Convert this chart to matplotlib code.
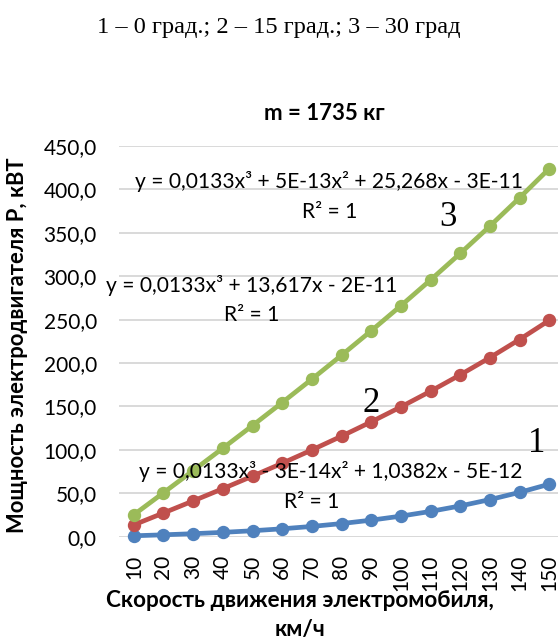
import matplotlib
matplotlib.use("Agg")
import matplotlib.pyplot as plt
from matplotlib.ticker import MultipleLocator, FuncFormatter

# Speed categories, km/h
speeds = ["10", "20", "30", "40", "50", "60", "70", "80", "90", "100",
          "110", "120", "130", "140", "150"]

# Motor power, kW, for road slopes 0, 15 and 30 degrees
power_0deg = [1.05, 2.18, 3.47, 5.00, 6.85, 9.10, 11.83, 15.12, 19.04, 23.68,
              29.12, 35.44, 42.72, 51.03, 60.46]
power_15deg = [13.63, 27.34, 41.21, 55.32, 69.75, 84.57, 99.88, 115.75, 132.25, 149.47,
               167.49, 186.39, 206.24, 227.13, 249.14]
power_30deg = [25.28, 50.64, 76.16, 101.92, 128.00, 154.48, 181.44, 208.95, 237.11, 265.98,
               295.65, 326.20, 357.70, 390.25, 423.91]

trend_0deg = "y = 0,0133x³ - 3E-14x² + 1,0382x - 5E-12"
trend_15deg = "y = 0,0133x³ + 13,617x - 2E-11"
trend_30deg = "y = 0,0133x³ + 5E-13x² + 25,268x - 3E-11"
r2_text = "R² = 1"

SANS = ["Lato", "Open Sans", "DejaVu Sans"]
SERIF = ["Liberation Serif", "DejaVu Serif"]
plt.rcParams["font.family"] = SANS

W, H = 558, 641
fig = plt.figure(figsize=(W / 100, H / 100), dpi=100)


def fx(px):
    return px / W


def fy(py):
    return 1 - py / H


ax = fig.add_axes([fx(119), fy(536.7), fx(564) - fx(119), fy(146) - fy(536.7)])

x = list(range(len(speeds)))
series = [
    (power_0deg, "#4F81BD"),
    (power_15deg, "#C0504D"),
    (power_30deg, "#9BBB59"),
]
for vals, col in series:
    ax.plot(x, vals, color=col, lw=3.4, marker="o", ms=8.6,
            markerfacecolor=col, markeredgecolor=col, zorder=3,
            solid_capstyle="round", clip_on=False)

ax.set_xlim(-0.5, len(speeds) - 0.5)
ax.set_ylim(0, 450)
ax.yaxis.set_major_locator(MultipleLocator(50))
ax.yaxis.set_major_formatter(FuncFormatter(lambda v, p: f"{v:.1f}".replace(".", ",")))
ax.set_xticks(x)
ax.set_xticklabels(speeds, rotation=90)
ax.tick_params(axis="both", length=0, labelsize=15, colors="#000000")
ax.tick_params(axis="x", pad=13)
ax.tick_params(axis="y", pad=16)
ax.grid(axis="y", color="#D9D9D9", lw=1.4, zorder=0)
ax.set_axisbelow(True)
for s in ax.spines.values():
    s.set_visible(False)
ax.axhline(0, color="#D9D9D9", lw=1.4, zorder=1)

# Header and chart title
fig.text(0.5, fy(27), "1 – 0 град.; 2 – 15 град.; 3 – 30 град",
         family=SERIF, fontsize=17.6, ha="center", va="center")
fig.text(fx(324), fy(113), "m = 1735 кг", fontsize=16, fontweight="bold",
         ha="center", va="center")

# Axis titles
fig.text(fx(18), fy(345), "Мощность электродвигателя P, кВТ", fontsize=15.8,
         fontweight="bold", rotation=90, ha="center", va="center")
fig.text(fx(300), fy(615), "Скорость движения электромобиля,\nкм/ч", fontsize=16.2,
         fontweight="bold", ha="center", va="center", linespacing=1.45)

# Trendline equations
eq_kw = dict(fontsize=15.1, ha="center", va="center", zorder=2)
fig.text(fx(329), fy(182), trend_30deg, **eq_kw)
fig.text(fx(330), fy(212), r2_text, **eq_kw)
fig.text(fx(252), fy(285), trend_15deg, **eq_kw)
fig.text(fx(252), fy(315), r2_text, **eq_kw)
fig.text(fx(331), fy(471), trend_0deg, **eq_kw)
fig.text(fx(312), fy(502), r2_text, **eq_kw)

# Curve numbers
num_kw = dict(family=SERIF, fontsize=25, ha="center", va="center")
fig.text(fx(448), fy(218), "3", **num_kw)
fig.text(fx(371), fy(404), "2", **num_kw)
fig.text(fx(537), fy(443), "1", **num_kw)

fig.savefig("out.png", dpi=100)
